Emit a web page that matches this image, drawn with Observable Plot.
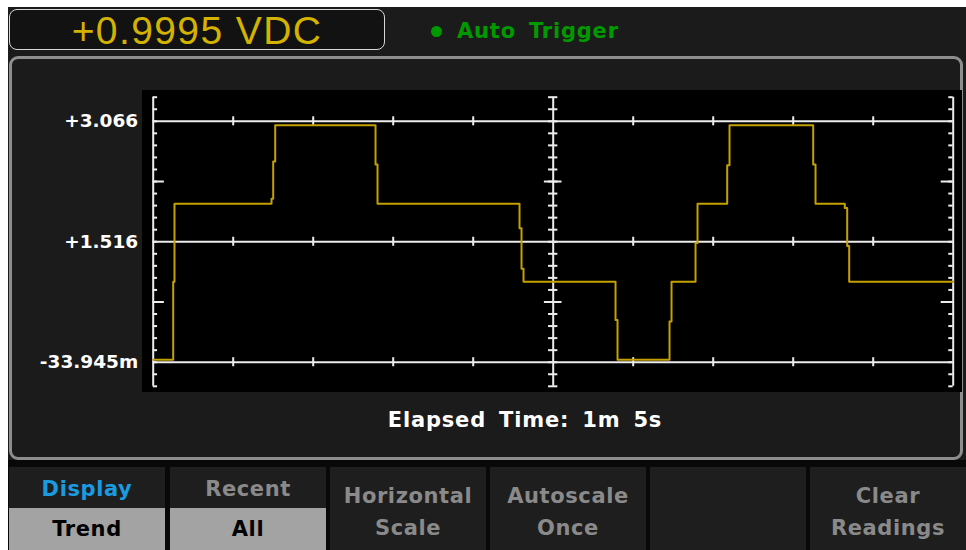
<!DOCTYPE html>
<html><head><meta charset="utf-8">
<script src="https://cdn.jsdelivr.net/npm/d3@7"></script>
<script src="https://cdn.jsdelivr.net/npm/@observablehq/plot@0.6"></script>
<style>
html,body{margin:0;padding:0;background:#fff;width:966px;height:550px;overflow:hidden;}
.abs{position:absolute;}
#screen{left:8px;top:7px;width:958px;height:543px;background:#1b1b1b;}
#reading{left:9px;top:9px;width:374px;height:39px;border:1.5px solid #d8d8d8;border-radius:8px;background:#121212;
  color:#d4b200;font-family:"Liberation Sans",Arial,sans-serif;font-size:39px;line-height:41px;text-align:center;letter-spacing:1.4px;}
#dot{left:431px;top:26px;width:11px;height:11px;border-radius:50%;background:#009a00;}
#trig{left:457px;top:18px;color:#009a00;font-family:"DejaVu Sans",sans-serif;font-weight:bold;font-size:21px;line-height:26px;word-spacing:5px;letter-spacing:0.8px;}
#panel{left:9px;top:56px;width:948px;height:398px;border:3px solid #8e8e8e;border-radius:9px;background:#1b1b1b;}
#chart{left:142px;top:90px;}
#elapsed{left:300px;top:406px;width:450px;text-align:center;color:#fff;font-family:"DejaVu Sans",sans-serif;font-weight:bold;font-size:21px;line-height:28px;word-spacing:5px;letter-spacing:0.8px;}
#btnrow{left:8px;top:460px;width:958px;height:90px;background:#080808;}
.btn{top:467px;height:83px;width:157px;background:#1e1e1e;font-family:"DejaVu Sans",sans-serif;font-weight:bold;font-size:21px;letter-spacing:0.6px;color:#8a8a8a;text-align:center;}
.btn .top{position:absolute;left:0;top:8px;width:100%;line-height:28px;}
.btn .bot{position:absolute;left:0;top:41px;width:100%;height:42px;line-height:42px;background:#a3a3a3;color:#000;}
.btn .l1{position:absolute;left:0;top:15px;width:100%;line-height:28px;}
.btn .l2{position:absolute;left:0;top:47px;width:100%;line-height:28px;}
</style></head><body>
<div id="screen" class="abs"></div>
<div id="reading" class="abs">+0.9995 VDC</div>
<div id="dot" class="abs"></div>
<div id="trig" class="abs">Auto Trigger</div>
<div id="panel" class="abs"></div>
<div id="chart" class="abs"></div>
<div id="elapsed" class="abs">Elapsed Time: 1m 5s</div>
<div id="btnrow" class="abs"></div>
<div id="buttons"></div>
<script>
// Trace samples: elapsed position (0..100 = full window) and measured volts (step trace)
const timePos = [0, 2.5, 2.66, 14.79, 15.0, 15.25, 27.79, 28.04, 45.79, 46.04, 46.29, 57.79, 58.04, 64.54, 64.79, 67.79, 68.04, 71.75, 72.04, 82.5, 82.79, 86.45, 86.75, 87.0, 100];
const volts   = [-0.003, 1.0, 2.005, 2.07, 2.55, 3.014, 2.51, 2.005, 1.69, 1.17, 1.0, 0.51, -0.003, 0.49, 1.0, 1.5, 2.005, 2.5, 3.014, 2.51, 2.005, 1.95, 1.46, 1.0, 1.0];

// Axis values and labels
const gridValues = [3.066, 1.516, -0.033945];
const gridLabels = ["+3.066", "+1.516", "-33.945m"];
const xDivisions = [10, 20, 30, 40, 60, 70, 80, 90];
const axisPositions = [0, 50, 100];
const yMin = -0.343945, yMax = 3.376055;
const minorTicks = d3.range(25).map(i => yMin + i * 0.155);
const longTicks = [minorTicks[7], minorTicks[17]];

// Button labels
const btnTop = ["Display", "Recent", "Horizontal", "Autoscale", "", "Clear"];
const btnBottom = ["Trend", "All", "Scale", "Once", "", "Readings"];

const trace = timePos.map((t, i) => ({t, v: volts[i]}));
const gridTicks = gridValues.flatMap(v => xDivisions.map(t => ({t, v})));
const W = "#ececec";

const chart = Plot.plot({
  width: 820, height: 302,
  marginLeft: 10.7, marginRight: 9.3, marginTop: 6.7, marginBottom: 6.2,
  x: {domain: [0, 100], axis: null},
  y: {domain: [yMin, yMax], axis: null},
  style: {background: "#000", overflow: "visible", fontFamily: "DejaVu Sans, sans-serif", color: "#fff"},
  marks: [
    Plot.ruleY(gridValues, {x1: 0, x2: 100, stroke: W, strokeWidth: 2}),
    Plot.ruleX(axisPositions, {y1: yMin, y2: yMax, stroke: W, strokeWidth: 2}),
    Plot.ruleY(minorTicks, {x1: 0, x2: 0.55, stroke: W, strokeWidth: 2}),
    Plot.ruleY(longTicks, {x1: 0, x2: 1.4, stroke: W, strokeWidth: 2}),
    Plot.ruleY(minorTicks, {x1: 49.42, x2: 50.58, stroke: W, strokeWidth: 2}),
    Plot.ruleY(longTicks, {x1: 48.9, x2: 51.1, stroke: W, strokeWidth: 2}),
    Plot.ruleY(minorTicks, {x1: 99.45, x2: 100, stroke: W, strokeWidth: 2}),
    Plot.ruleY(longTicks, {x1: 98.5, x2: 100, stroke: W, strokeWidth: 2}),
    Plot.ruleX(gridTicks, {x: "t", y1: d => d.v - 0.058, y2: d => d.v + 0.058, stroke: W, strokeWidth: 2}),
    Plot.line(trace, {x: "t", y: "v", curve: "step-after", stroke: "#c4a000", strokeWidth: 2}),
    Plot.axisY({ticks: gridValues, tickFormat: d => gridLabels[gridValues.indexOf(d)], tickSize: 0, tickPadding: 15,
      label: null, fontSize: 18.5, fontWeight: "bold", fill: "#fff", style: "letter-spacing:0.6px"})
  ]
});
document.getElementById("chart").appendChild(chart);

const lefts = [9, 170, 330, 490, 650, 810];
const btns = document.getElementById("buttons");
btnTop.forEach((t, i) => {
  const b = document.createElement("div");
  b.className = "btn abs";
  b.style.left = lefts[i] + "px";
  b.style.width = "156px";
  if (i < 2) {
    b.innerHTML = `<div class="top" style="color:${i === 0 ? '#1a9be0' : '#8a8a8a'}">${t}</div><div class="bot">${btnBottom[i]}</div>`;
  } else {
    b.innerHTML = `<div class="l1">${t}</div><div class="l2">${btnBottom[i]}</div>`;
  }
  btns.appendChild(b);
});
</script>
</body></html>
